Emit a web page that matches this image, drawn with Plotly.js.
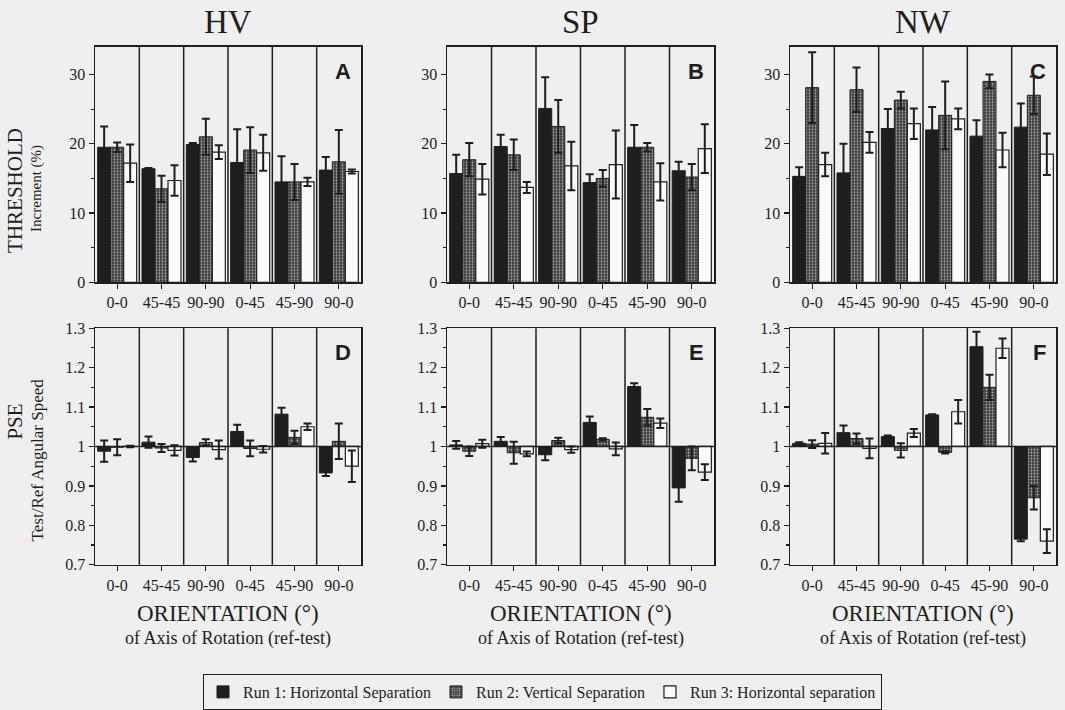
<!DOCTYPE html>
<html>
<head>
<meta charset="utf-8">
<script src="https://cdn.plot.ly/plotly-3.0.1.min.js"></script>
<style>html,body{margin:0;padding:0;background:#efefef;}#chart{width:1065px;height:710px;}</style>
</head>
<body>
<div id="chart"></div>
<script>
// ---- data ----
const categories = ['0-0','45-45','90-90','0-45','45-90','90-0'];
const runNames = ['Run 1: Horizontal Separation','Run 2: Vertical Separation','Run 3: Horizontal separation'];
const panelTitles = ['HV','SP','NW'];
const panelLetters = ['A','B','C','D','E','F'];

// Threshold (Increment %)
const hvThrRun1 = [19.5, 16.4, 19.9, 17.3, 14.5, 16.2];
const hvThrErr1 = [3.0, 0.1, 0.2, 4.8, 3.7, 1.9];
const hvThrRun2 = [19.5, 13.5, 21.0, 19.1, 14.5, 17.4];
const hvThrErr2 = [0.7, 1.9, 2.6, 3.3, 2.6, 4.6];
const hvThrRun3 = [17.2, 14.7, 18.8, 18.7, 14.5, 16.0];
const hvThrErr3 = [2.7, 2.2, 1.0, 2.6, 0.6, 0.3];

const spThrRun1 = [15.7, 19.6, 25.1, 14.4, 19.5, 16.1];
const spThrErr1 = [2.7, 1.7, 4.5, 1.2, 3.2, 1.3];
const spThrRun2 = [17.7, 18.4, 22.5, 15.0, 19.5, 15.2];
const spThrErr2 = [2.4, 2.2, 3.8, 1.2, 0.6, 1.9];
const spThrRun3 = [14.9, 13.7, 16.8, 17.0, 14.5, 19.3];
const spThrErr3 = [2.2, 0.8, 3.5, 4.9, 2.7, 3.5];

const nwThrRun1 = [15.3, 15.8, 22.2, 22.0, 21.1, 22.4];
const nwThrErr1 = [1.3, 4.2, 2.8, 3.3, 2.3, 3.4];
const nwThrRun2 = [28.1, 27.8, 26.3, 24.1, 29.0, 27.0];
const nwThrErr2 = [5.1, 3.2, 1.2, 4.9, 1.0, 2.7];
const nwThrRun3 = [17.0, 20.2, 22.9, 23.6, 19.1, 18.5];
const nwThrErr3 = [1.7, 1.5, 2.2, 1.5, 2.5, 3.0];

// PSE (Test/Ref angular speed)
const hvPseRun1 = [0.988, 1.011, 0.972, 1.038, 1.082, 0.933];
const hvPseErr1 = [0.027, 0.014, 0.010, 0.017, 0.016, 0.008];
const hvPseRun2 = [0.998, 0.996, 1.010, 0.995, 1.023, 1.013];
const hvPseErr2 = [0.020, 0.010, 0.008, 0.020, 0.017, 0.045];
const hvPseRun3 = [1.000, 0.990, 0.992, 0.993, 1.050, 0.950];
const hvPseErr3 = [0.002, 0.013, 0.023, 0.008, 0.008, 0.040];

const spPseRun1 = [1.004, 1.013, 0.979, 1.061, 1.152, 0.895];
const spPseErr1 = [0.010, 0.011, 0.014, 0.015, 0.008, 0.035];
const spPseRun2 = [0.988, 0.984, 1.015, 1.018, 1.074, 0.970];
const spPseErr2 = [0.012, 0.028, 0.007, 0.003, 0.021, 0.030];
const spPseRun3 = [1.007, 0.981, 0.992, 0.994, 1.059, 0.935];
const spPseErr3 = [0.010, 0.006, 0.008, 0.016, 0.012, 0.020];

const nwPseRun1 = [1.008, 1.035, 1.025, 1.080, 1.253, 0.765];
const nwPseErr1 = [0.003, 0.018, 0.003, 0.002, 0.038, 0.005];
const nwPseRun2 = [1.006, 1.020, 0.990, 0.985, 1.150, 0.870];
const nwPseErr2 = [0.010, 0.013, 0.018, 0.003, 0.032, 0.030];
const nwPseRun3 = [1.008, 0.995, 1.034, 1.088, 1.249, 0.760];
const nwPseErr3 = [0.026, 0.025, 0.010, 0.030, 0.025, 0.030];

const thrTicks = [0, 10, 20, 30];
const pseTicks = [0.7, 0.8, 0.9, 1.0, 1.1, 1.2, 1.3];
const pseTickText = ['0.7','0.8','0.9','1','1.1','1.2','1.3'];

// ---- build ----
const W = 1065, H = 710;
const SERIF = 'Liberation Serif, Times New Roman, serif';
const INK = '#1e1e1e';
const BG = '#efefef';

const panels = [
  {runs:[hvThrRun1,hvThrRun2,hvThrRun3], errs:[hvThrErr1,hvThrErr2,hvThrErr3], pse:false},
  {runs:[spThrRun1,spThrRun2,spThrRun3], errs:[spThrErr1,spThrErr2,spThrErr3], pse:false},
  {runs:[nwThrRun1,nwThrRun2,nwThrRun3], errs:[nwThrErr1,nwThrErr2,nwThrErr3], pse:false},
  {runs:[hvPseRun1,hvPseRun2,hvPseRun3], errs:[hvPseErr1,hvPseErr2,hvPseErr3], pse:true},
  {runs:[spPseRun1,spPseRun2,spPseRun3], errs:[spPseErr1,spPseErr2,spPseErr3], pse:true},
  {runs:[nwPseRun1,nwPseRun2,nwPseRun3], errs:[nwPseErr1,nwPseErr2,nwPseErr3], pse:true}
];

const colX = [[95,361],[447,714],[790,1056]];
const rowY = [[47,284],[330,568]]; // top px, bottom px

const markerStyles = [
  {color: INK, line:{color:INK, width:1}},
  {color: '#444', line:{color:INK, width:1}, pattern:{shape:'.', fgcolor:'#b0b0b0', bgcolor:'#3a3a3a', size:3, solidity:0.3}},
  {color: '#fafafa', line:{color:INK, width:1.2}}
];

const data = [];
const layout = {
  width: W, height: H,
  paper_bgcolor: BG, plot_bgcolor: BG,
  margin: {l:0, r:0, t:0, b:0},
  barmode: 'group', bargap: 0.12, bargroupgap: 0,
  showlegend: true,
  legend: {
    orientation: 'h', x: 203/W, xanchor: 'left', y: 1-678/H, yanchor: 'top',
    bordercolor: INK, borderwidth: 1, bgcolor: BG,
    font: {family: SERIF, size: 16, color: INK},
    itemwidth: 30, tracegroupgap: 0
  },
  annotations: [], shapes: []
};

panels.forEach((p, i) => {
  const col = i % 3, row = Math.floor(i / 3);
  const idx = i === 0 ? '' : String(i + 1);
  const xa = 'x' + idx, ya = 'y' + idx;
  const xd = [colX[col][0]/W, colX[col][1]/W];
  const yd = [1 - rowY[row][1]/H, 1 - rowY[row][0]/H];

  p.runs.forEach((vals, r) => {
    const tr = {
      type: 'bar', x: categories, xaxis: xa, yaxis: ya,
      name: runNames[r], legendgroup: 'run' + r, showlegend: i === 0,
      offsetgroup: String(r),
      marker: markerStyles[r],
      error_y: {type:'data', array: p.errs[r], visible:true, color: INK, thickness: 2, width: 4},
      hoverinfo: 'skip'
    };
    if (p.pse) { tr.y = vals.map(v => v - 1); tr.base = 1; }
    else { tr.y = vals; }
    data.push(tr);
  });

  layout['xaxis' + idx] = {
    domain: xd, anchor: ya, type: 'category', range: [-0.5, 5.5],
    showline: true, mirror: true, linecolor: INK, linewidth: 1.5,
    ticks: 'outside', ticklen: 5, tickwidth: 1.2, tickcolor: INK,
    tickfont: {family: SERIF, size: 16, color: INK},
    showgrid: false, zeroline: false, fixedrange: true
  };
  const yax = {
    domain: yd, anchor: xa,
    showline: true, mirror: true, linecolor: INK, linewidth: 1.5,
    ticks: 'outside', ticklen: 5, tickwidth: 1.2, tickcolor: INK,
    tickfont: {family: SERIF, size: 16, color: INK},
    showgrid: false, zeroline: false, fixedrange: true
  };
  if (p.pse) {
    yax.range = [0.7, 1.3]; yax.tickvals = pseTicks; yax.ticktext = pseTickText;
    yax.minor = {dtick: 0.05, ticks: 'outside', ticklen: 3, tickcolor: INK, showgrid: false};
  } else {
    yax.range = [0, 34]; yax.tickvals = thrTicks;
    yax.minor = {dtick: 5, ticks: 'outside', ticklen: 3, tickcolor: INK, showgrid: false};
  }
  layout['yaxis' + idx] = yax;

  // group dividers
  for (let k = 0; k < categories.length - 1; k++) {
    layout.shapes.push({type:'line', xref: xa, yref: ya + ' domain', x0: k + 0.5, x1: k + 0.5, y0: 0, y1: 1,
      line: {color: INK, width: 1.5}});
  }
  if (p.pse) {
    layout.shapes.push({type:'line', xref: xa + ' domain', yref: ya, x0: 0, x1: 1, y0: 1, y1: 1,
      line: {color: INK, width: 1.5}});
  }
  // panel letter
  layout.annotations.push({text: panelLetters[i], xref: 'paper', yref: 'paper',
    x: (colX[col][1] - 8)/W, y: 1 - (rowY[row][0] + 10)/H, xanchor: 'right', yanchor: 'top', showarrow: false,
    font: {family: 'Liberation Sans, Arial, sans-serif', size: 22, color: INK, weight: 'bold'}});

  const cx = (colX[col][0] + colX[col][1]) / 2 / W;
  if (row === 0) {
    layout.annotations.push({text: panelTitles[col], xref:'paper', yref:'paper', x: cx, y: 1 - 22/H,
      xanchor:'center', yanchor:'middle', showarrow:false, font:{family: SERIF, size: 33, color: INK}});
  } else {
    layout.annotations.push({text: 'ORIENTATION (°)', xref:'paper', yref:'paper', x: cx, y: 1 - 617/H,
      xanchor:'center', yanchor:'middle', showarrow:false, font:{family: SERIF, size: 23, color: INK}});
    layout.annotations.push({text: 'of Axis of Rotation (ref-test)', xref:'paper', yref:'paper', x: cx, y: 1 - 642/H,
      xanchor:'center', yanchor:'middle', showarrow:false, font:{family: SERIF, size: 18, color: INK}});
  }
});

// row titles
layout.annotations.push({text:'THRESHOLD', xref:'paper', yref:'paper', x: 15/W, y: 1 - 192/H, textangle: -90,
  xanchor:'center', yanchor:'middle', showarrow:false, font:{family: SERIF, size: 21, color: INK}});
layout.annotations.push({text:'Increment (%)', xref:'paper', yref:'paper', x: 37/W, y: 1 - 190/H, textangle: -90,
  xanchor:'center', yanchor:'middle', showarrow:false, font:{family: SERIF, size: 15, color: INK}});
layout.annotations.push({text:'PSE', xref:'paper', yref:'paper', x: 15/W, y: 1 - 424/H, textangle: -90,
  xanchor:'center', yanchor:'middle', showarrow:false, font:{family: SERIF, size: 21, color: INK}});
layout.annotations.push({text:'Test/Ref Angular Speed', xref:'paper', yref:'paper', x: 37/W, y: 1 - 463/H, textangle: -90,
  xanchor:'center', yanchor:'middle', showarrow:false, font:{family: SERIF, size: 17, color: INK}});

Plotly.newPlot('chart', data, layout, {staticPlot: true, displayModeBar: false});
</script>
</body>
</html>
